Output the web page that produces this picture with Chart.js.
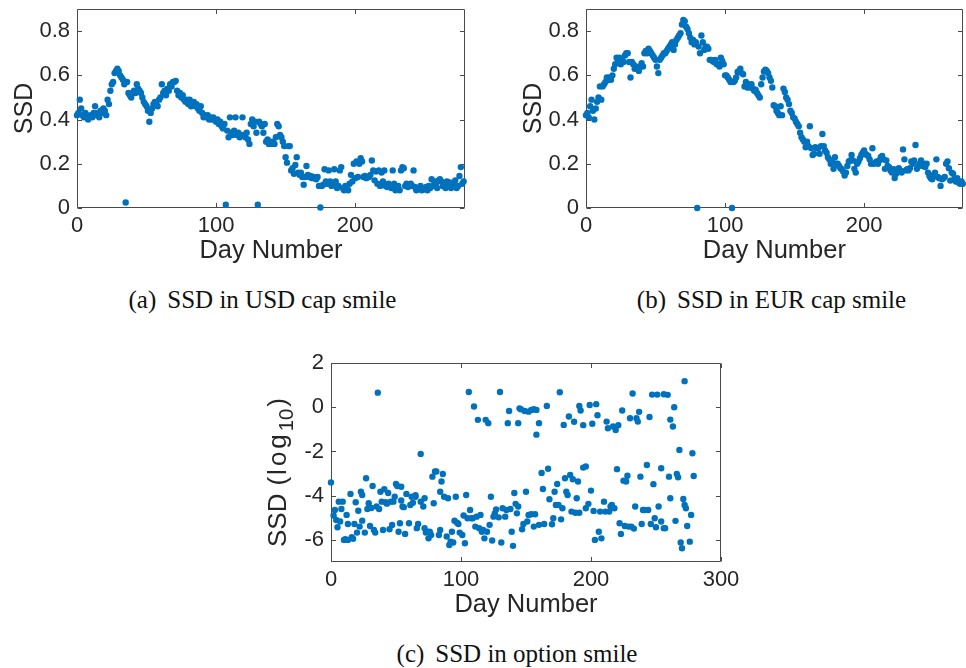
<!DOCTYPE html>
<html><head><meta charset="utf-8">
<script src="https://cdn.jsdelivr.net/npm/chart.js@4.4.1/dist/chart.umd.min.js"></script>
<style>
html,body{margin:0;padding:0;background:#fff;width:966px;height:668px;overflow:hidden;position:relative}
canvas{position:absolute}
.cap{position:absolute;width:400px;text-align:center;font-family:"Liberation Serif","Times New Roman",serif;font-size:25px;line-height:25px;color:#111;white-space:nowrap}
.gap{display:inline-block;width:11px}
</style></head><body>
<canvas id="ca" width="480" height="270" style="left:0;top:0;width:480px;height:270px"></canvas>
<canvas id="cb" width="466" height="270" style="left:500px;top:0;width:466px;height:270px"></canvas>
<canvas id="cc" width="490" height="290" style="left:250px;top:340px;width:490px;height:290px"></canvas>
<div class="cap" style="left:62.5px;top:287px">(a)<span class="gap"></span>SSD in USD cap smile</div>
<div class="cap" style="left:571.5px;top:287px">(b)<span class="gap"></span>SSD in EUR cap smile</div>
<div class="cap" style="left:317px;top:641px">(c)<span class="gap"></span>SSD in option smile</div>
<script>
// ---- data ----
// (a) USD cap smile: SSD for day 0..278
const usdSSD = [
0.42,0.43,0.49,0.45,0.42, 0.41,0.43,0.42,0.40,0.41, 0.42,0.41,0.43,0.46,0.42, 0.43,0.41,0.44,0.43,0.45,
0.44,0.42,0.49,0.47,0.53, 0.56,0.57,0.61,0.62,0.63, 0.62,0.60,0.59,0.58,0.56, 0.025,0.57,0.52,0.51,0.50,
0.52,0.53,0.52,0.56,0.54, 0.53,0.52,0.50,0.48,0.47, 0.46,0.44,0.39,0.43,0.45, 0.47,0.48,0.47,0.46,0.49,
0.50,0.56,0.52,0.53,0.51, 0.54,0.53,0.56,0.55,0.57, 0.57,0.575,0.53,0.51,0.52, 0.50,0.51,0.49,0.48,0.49,
0.47,0.49,0.46,0.47,0.48, 0.46,0.47,0.45,0.44,0.46, 0.43,0.41,0.42,0.41,0.42, 0.40,0.41,0.40,0.41,0.40,
0.39,0.40,0.38,0.39,0.37, 0.36,0.38,0.015,0.35,0.32, 0.41,0.34,0.33,0.35,0.41, 0.33,0.34,0.32,0.33,0.41,
0.33,0.32,0.34,0.31,0.29, 0.38,0.40,0.37,0.39,0.34, 0.015,0.39,0.38,0.37,0.34, 0.38,0.30,0.31,0.29,0.30,
0.29,0.30,0.29,0.32,0.38, 0.37,0.33,0.32,0.30,0.28, 0.23,0.205,0.28,0.28,0.17, 0.18,0.155,0.195,0.23,0.16,
0.15,0.16,0.14,0.105,0.14, 0.19,0.15,0.14,0.145,0.135, 0.14,0.135,0.13,0.14,0.10, 0.002,0.10,0.105,0.175,0.12,
0.11,0.17,0.12,0.10,0.11, 0.175,0.12,0.09,0.10,0.17, 0.185,0.09,0.08,0.10,0.09, 0.08,0.11,0.15,0.12,0.20,
0.135,0.21,0.14,0.20,0.225, 0.21,0.14,0.145,0.135,0.14, 0.14,0.15,0.215,0.17,0.125, 0.165,0.11,0.17,0.10,0.16,
0.12,0.17,0.10,0.095,0.11, 0.10,0.09,0.17,0.11,0.08, 0.09,0.10,0.08,0.17,0.185, 0.18,0.10,0.11,0.095,0.10,
0.11,0.10,0.17,0.095,0.08, 0.09,0.085,0.10,0.08,0.09, 0.085,0.095,0.08,0.10,0.09, 0.13,0.10,0.12,0.11,0.09,
0.125,0.13,0.12,0.10,0.11, 0.09,0.12,0.10,0.115,0.09, 0.11,0.10,0.125,0.09,0.10, 0.145,0.185,0.11,0.12
];
// (b) EUR cap smile: SSD for day 0..271
const eurSSD = [
0.42,0.43,0.41,0.46,0.49, 0.44,0.40,0.45,0.48,0.50, 0.55,0.49,0.55,0.56,0.57, 0.59,0.58,0.59,0.58,0.60,
0.63,0.65,0.68,0.67,0.68, 0.65,0.67,0.66,0.69,0.70, 0.70,0.66,0.59,0.66,0.65, 0.63,0.64,0.63,0.62,0.64,
0.655,0.64,0.70,0.71,0.70, 0.72,0.71,0.70,0.69,0.68, 0.67,0.64,0.61,0.67,0.68, 0.69,0.70,0.70,0.71,0.72,
0.73,0.74,0.75,0.715,0.74, 0.76,0.77,0.78,0.79,0.83, 0.85,0.845,0.82,0.81,0.79, 0.77,0.75,0.76,0.74,0.75,
0.0,0.73,0.70,0.78,0.75, 0.715,0.73,0.73,0.72,0.67, 0.67,0.665,0.66,0.67,0.65, 0.65,0.64,0.68,0.665,0.65,
0.60,0.60,0.59,0.58,0.57, 0.0,0.57,0.575,0.59,0.615, 0.62,0.63,0.61,0.605,0.55, 0.57,0.545,0.56,0.545,0.56,
0.54,0.53,0.535,0.52,0.51, 0.50,0.56,0.59,0.617,0.625, 0.62,0.61,0.59,0.575,0.545, 0.465,0.46,0.44,0.43,0.42,
0.46,0.42,0.54,0.525,0.50, 0.49,0.47,0.44,0.43,0.41, 0.405,0.39,0.38,0.37,0.34, 0.32,0.31,0.30,0.275,0.30,
0.28,0.37,0.27,0.24,0.245, 0.275,0.27,0.27,0.245,0.28, 0.335,0.28,0.26,0.25,0.23, 0.22,0.20,0.21,0.177,0.23,
0.20,0.20,0.19,0.18,0.175, 0.165,0.147,0.16,0.19,0.21, 0.215,0.24,0.215,0.177,0.16, 0.20,0.21,0.225,0.24,0.25,
0.26,0.245,0.24,0.235,0.22, 0.20,0.27,0.20,0.205,0.21, 0.20,0.215,0.23,0.235,0.22, 0.177,0.215,0.19,0.185,0.17,
0.16,0.175,0.136,0.155,0.175, 0.18,0.17,0.16,0.265,0.22, 0.17,0.175,0.17,0.18,0.21, 0.20,0.215,0.285,0.177,0.19,
0.20,0.215,0.19,0.20,0.185, 0.20,0.16,0.145,0.135,0.13, 0.15,0.16,0.22,0.14,0.135, 0.10,0.13,0.135,0.14,0.20,
0.21,0.18,0.124,0.16,0.155, 0.13,0.12,0.135,0.115,0.11, 0.12,0.11
];
// (c) option smile: day numbers and SSD (log10)
const optDays = [
0,2,3,4,5,6,7,8,9,10, 11,12,13,13,15,16,17,18,19,20, 21,22,23,24,24,26,27,28,29,30,
31,32,33,34,35,36,37,38,39,40, 41,42,43,44,45,46,47,48,49,50, 51,52,53,54,54,55,56,57,58,60,
61,62,63,65,65,66,67,69,69,71, 72,72,73,74,75,76,77,78,79,80, 81,83,84,84,85,86,87,89,90,91,
92,93,94,95,96,97,98,99,101,102, 103,104,105,106,107,108,109,110,111,112, 113,114,115,116,117,118,119,120,121,122,
123,124,125,126,127,129,130,131,132,134, 135,136,137,138,139,140,141,142,143,144, 144,145,146,147,148,149,150,151,152,152,
154,154,156,156,157,158,158,160,160,162, 163,164,166,167,168,170,171,172,173,174, 175,176,177,178,179,180,181,182,183,184,
185,186,187,188,189,190,191,191,192,194, 194,196,196,198,199,200,201,202,203,204, 205,206,207,208,210,211,212,213,214,215,
216,217,218,219,220,221,222,223,224,225, 226,227,228,229,230,231,232,233,234,235, 236,237,238,239,240,241,243,244,245,246,
247,248,249,250,251,252,254,254,256,256, 257,259,260,261,261,263,264,265,266,267, 268,269,270,271,272,272,273,274,276,277,
278,279
];
const optSSD = [
-3.4,-4.9,-4.65,-5.1,-5.43,-4.27,-5.17,-4.6,-4.27,-6.0, -5.97,-4.87,-6.0,-5.28,-3.92,-5.88,-5.95,-5.28,-4.3,-5.67, -4.68,-5.4,-3.82,-5.13,-3.97,-5.67,-3.21,-4.6,-4.34,-5.37,
-4.56,-3.56,-5.55,-5.67,-4.49,0.66,-4.6,-3.82,-4.27,-5.55, -3.71,-4.3,-4.36,-3.88,-5.52,-4.27,-5.33,-4.27,-4.05,-3.47, -3.56,-5.63,-5.25,-3.6,-4.22,-4.49,-4.52,-5.73,-3.92,-5.25,
-4.42,-4.05,-4.32,-4.05,-3.98,-5.47,-5.28,-2.11,-4.27,-4.49, -4.12,-5.47,-5.67,-5.63,-5.93,-5.63,-5.78,-3.14,-4.34,-2.91, -2.91,-5.78,-5.55,-3.82,-3.36,-3.02,-4.05,-5.85,-4.12,-6.23,
-6.08,-5.63,-6.12,-5.13,-4.05,-5.22,-5.28,-5.67,-5.78,-4.9, -6.15,-3.97,-5.02,0.69,-4.65,-5.02,-5.02,0.03,-5.4,-4.95, -0.57,-5.47,-4.87,-5.63,-5.55,-5.93,-0.57,-5.63,-0.72,-5.32,
-4.05,-6.03,-4.95,-4.8,-4.62,-4.98,0.69,-6.12,-4.57,-4.95, -4.65,-0.72,-0.17,-4.6,-5.63,-6.27,-3.88,-4.37,-4.8,-4.49, -0.72,-0.05,-0.09,-5.52,-5.28,-0.17,-3.82,-5.17,-4.87,-0.2,
-0.12,-4.84,-0.09,-5.4,-4.84,-0.12,-1.24,-0.72,-5.32,-2.97, -3.7,-5.28,0.06,-2.78,-4.16,-5.29,-5.02,-3.82,-4.42,-3.47, -4.42,0.68,-5.07,-4.57,-0.8,-3.21,-3.82,-3.97,-0.42,-3.06,
-4.72,-3.26,-0.66,-4.77,-4.12,-3.36,0.06,-4.77,-0.15,-0.81, -2.73,-4.57,-2.68,-4.37,0.1,-3.77,-0.75,-4.69,-6.0,0.14, -0.36,-5.63,-4.72,-5.93,-4.27,-4.72,-0.65,-0.95,-4.72,-4.49,
-4.42,-0.87,-4.57,-1.03,-2.8,-0.81,-5.25,-5.73,-0.15,-3.32, -5.37,-3.36,-3.1,-5.4,-0.5,-5.4,0.62,-5.49,-4.49,-0.5, -0.65,-0.21,-3.14,-5.28,-4.65,-4.65,-2.61,-4.65,-0.44,-5.28,
0.57,-3.48,-5.02,-5.43,0.57,-4.49,-2.76,-5.17,-5.47,0.59, -5.47,0.56,-3.14,-0.56,-4.12,-0.87,0.0,-5.14,-3.02,-3.17, -1.93,-6.12,-6.38,-4.15,1.18,-4.42,-4.57,-5.37,-6.08,-4.87,
-2.08,-3.11
];
// tick values
const capXTicks = [0, 100, 200];
const capYTicks = [0, 0.2, 0.4, 0.6, 0.8];
const optXTicks = [0, 100, 200, 300];
const optYTicks = [-6, -4, -2, 0, 2];

// ---- styling ----
const BLUE = '#0072BD';
const TC = '#262626';
const AXC = '#4a4a4a';
const FAM = '"Liberation Sans", Arial, Helvetica, sans-serif';
const TF = {family: FAM, size: 22};

const frame = {
  id: 'frame',
  beforeDatasetsDraw(chart, args, o) {
    const {ctx, chartArea: a, scales: {x, y}} = chart;
    const L = Math.round(a.left) + 0.5, R = Math.round(a.right) - 0.5;
    const T = Math.round(a.top) + 0.5, B = Math.round(a.bottom) - 0.5;
    const tl = 4.5;
    ctx.save();
    ctx.strokeStyle = AXC; ctx.lineWidth = 1;
    ctx.beginPath();
    ctx.rect(L, T, R - L, B - T);
    x.ticks.forEach(t => {
      const px = Math.round(x.getPixelForValue(t.value)) + 0.5;
      ctx.moveTo(px, B); ctx.lineTo(px, B - tl);
      ctx.moveTo(px, T); ctx.lineTo(px, T + tl);
    });
    y.ticks.forEach(t => {
      const py = Math.round(y.getPixelForValue(t.value)) + 0.5;
      ctx.moveTo(L, py); ctx.lineTo(L + tl, py);
      ctx.moveTo(R, py); ctx.lineTo(R - tl, py);
    });
    ctx.stroke();
    ctx.restore();
  },
  afterDraw(chart, args, o) {
    const {ctx, chartArea: a} = chart;
    ctx.save();
    ctx.fillStyle = TC;
    ctx.textBaseline = 'alphabetic';
    ctx.textAlign = 'center';
    ctx.font = o.xSize + 'px ' + FAM;
    ctx.fillText(o.xTitle, (a.left + a.right) / 2, a.bottom + o.xOff);
    // y title (rotated), possibly with subscript
    ctx.translate(a.left - o.yOff, (a.top + a.bottom) / 2 + o.yShift);
    ctx.rotate(-Math.PI / 2);
    ctx.textAlign = 'left';
    const setF = p => { ctx.font = (o.ySize * (p.s || 1)) + 'px ' + FAM; ctx.letterSpacing = (p.ls || 0) + 'px'; };
    let total = 0;
    const ws = o.yParts.map(p => { setF(p); const w = ctx.measureText(p.t).width + (p.after || 0); total += w; return w; });
    let xx = -total / 2;
    o.yParts.forEach((p, i) => {
      setF(p);
      ctx.fillText(p.t, xx, p.dy || 0);
      xx += ws[i];
    });
    ctx.restore();
  }
};

function build(id, o) {
  const noPad = s => { s.paddingLeft = 0; s.paddingRight = 0; s.paddingTop = 0; s.paddingBottom = 0; };
  return new Chart(document.getElementById(id), {
    type: 'scatter',
    data: {datasets: [{data: o.points, backgroundColor: BLUE, borderWidth: 0, pointRadius: 3.2, pointHoverRadius: 3.2, clip: false}]},
    options: {
      responsive: false, animation: false, devicePixelRatio: 1, events: [],
      layout: {padding: o.pad},
      plugins: {
        legend: {display: false}, tooltip: {enabled: false},
        frame: {xTitle: 'Day Number', xSize: 25.5, xOff: 50, yParts: o.yParts, ySize: o.ySize || 25, yOff: 45, yShift: o.yShift || 0}
      },
      scales: {
        x: {
          type: 'linear', min: o.xMin, max: o.xMax,
          grid: {display: false, drawTicks: false, tickLength: 0}, border: {display: false},
          afterBuildTicks: s => { s.ticks = o.xTicks.map(v => ({value: v})); },
          afterFit: s => { s.height = o.xH; noPad(s); },
          ticks: {font: TF, color: TC, padding: 5, maxRotation: 0, autoSkip: false, callback: v => String(v)}
        },
        y: {
          type: 'linear', min: o.yMin, max: o.yMax,
          grid: {display: false, drawTicks: false, tickLength: 0}, border: {display: false},
          afterBuildTicks: s => { s.ticks = o.yTicks.map(v => ({value: v})); },
          afterFit: s => { s.width = o.yW; noPad(s); },
          ticks: {font: TF, color: TC, padding: 7, autoSkip: false, callback: v => String(v)}
        }
      }
    },
    plugins: [frame]
  });
}

build('ca', {
  points: usdSSD.map((v, i) => ({x: i, y: v})),
  xMin: 0, xMax: 279, yMin: 0, yMax: 0.9, xTicks: capXTicks, yTicks: capYTicks,
  pad: {top: 9, right: 15, left: 0, bottom: 0}, xH: 62, yW: 77,
  yParts: [{t: 'SSD'}]
});
build('cb', {
  points: eurSSD.map((v, i) => ({x: i, y: v})),
  xMin: 0, xMax: 271, yMin: 0, yMax: 0.9, xTicks: capXTicks, yTicks: capYTicks,
  pad: {top: 9, right: 1, left: 0, bottom: 0}, xH: 62, yW: 86,
  yParts: [{t: 'SSD'}]
});
build('cc', {
  points: optDays.map((d, i) => ({x: d, y: optSSD[i]})),
  xMin: 0, xMax: 300, yMin: -7, yMax: 2, xTicks: optXTicks, yTicks: optYTicks,
  pad: {top: 23, right: 19, left: 0, bottom: 0}, xH: 68, yW: 81,
  ySize: 26, yShift: 10,
  yParts: [{t: 'SSD', after: 8}, {t: '(', after: 2}, {t: 'log', ls: 3}, {t: '10', s: 0.78, dy: 7, after: 2}, {t: ')'}]
});
</script>
</body></html>
